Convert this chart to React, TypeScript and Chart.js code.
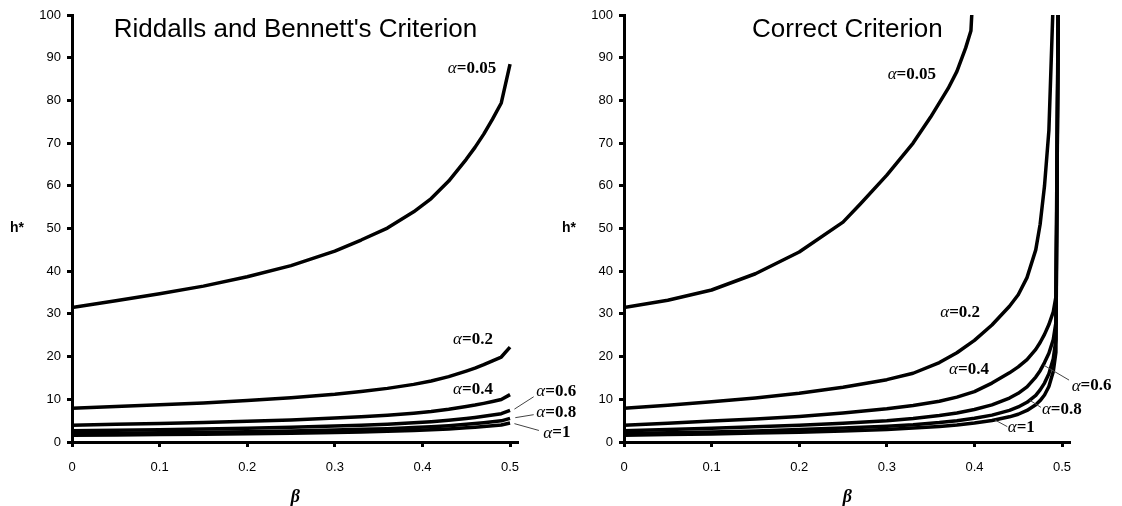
import React, { useEffect, useRef } from 'react';
import { Chart, registerables } from 'chart.js';

Chart.register(...registerables);

// ---------- data ----------
const alphaNames = ['0.05', '0.2', '0.4', '0.6', '0.8', '1'];

// Left panel: Riddalls and Bennett's criterion
const leftBeta = [0, 0.05, 0.1, 0.15, 0.2, 0.25, 0.3, 0.33, 0.36, 0.39, 0.41, 0.43, 0.45, 0.46, 0.47, 0.48, 0.49, 0.5];
const leftH005 = [31.5, 33.1, 34.7, 36.5, 38.7, 41.3, 44.7, 47.3, 50.1, 53.9, 57.0, 61.1, 66.2, 69.0, 72.1, 75.6, 79.4, 88.5];
const leftH02 = [7.9, 8.3, 8.7, 9.16, 9.72, 10.35, 11.2, 11.85, 12.56, 13.5, 14.3, 15.3, 16.6, 17.3, 18.1, 19.0, 19.9, 22.2];
const leftH04 = [3.95, 4.15, 4.35, 4.58, 4.86, 5.17, 5.61, 5.93, 6.28, 6.75, 7.15, 7.66, 8.3, 8.65, 9.05, 9.48, 9.95, 11.1];
const leftH06 = [2.63, 2.76, 2.89, 3.05, 3.23, 3.45, 3.73, 3.95, 4.18, 4.5, 4.76, 5.1, 5.52, 5.76, 6.02, 6.31, 6.63, 7.39];
const leftH08 = [1.97, 2.07, 2.17, 2.29, 2.42, 2.58, 2.8, 2.96, 3.13, 3.37, 3.57, 3.82, 4.14, 4.31, 4.51, 4.73, 4.96, 5.54];
const leftH1 = [1.58, 1.66, 1.74, 1.83, 1.94, 2.07, 2.24, 2.37, 2.51, 2.7, 2.86, 3.07, 3.32, 3.46, 3.62, 3.79, 3.98, 4.44];

// Right panel: correct criterion
const rightBeta005 = [0, 0.05, 0.1, 0.15, 0.2, 0.25, 0.27, 0.3, 0.33, 0.35, 0.37, 0.38, 0.39, 0.396, 0.4];
const rightH005 = [31.5, 33.2, 35.6, 39.4, 44.5, 51.5, 55.8, 62.5, 70.0, 76.1, 82.8, 86.8, 92.3, 96.3, 112];
const rightBeta02 = [0, 0.05, 0.1, 0.15, 0.2, 0.25, 0.3, 0.33, 0.36, 0.38, 0.4, 0.42, 0.44, 0.45, 0.46, 0.47, 0.475, 0.48, 0.485, 0.491];
const rightH02 = [7.9, 8.6, 9.4, 10.3, 11.4, 12.8, 14.6, 16.1, 18.6, 20.9, 23.8, 27.4, 31.8, 34.5, 38.5, 45.0, 51.0, 60.0, 73.0, 110];
const rightBetaLow = [0, 0.05, 0.1, 0.15, 0.2, 0.25, 0.3, 0.33, 0.36, 0.38, 0.4, 0.42, 0.44, 0.45, 0.46, 0.47, 0.475, 0.48, 0.485, 0.49, 0.493, 0.497];
const rightH04 = [3.95, 4.4, 4.9, 5.4, 6.0, 6.8, 7.8, 8.55, 9.55, 10.5, 11.8, 13.8, 16.2, 17.6, 19.3, 21.7, 23.3, 25.2, 27.5, 30.5, 34, 140];
const rightH06 = [2.63, 2.9, 3.2, 3.55, 3.9, 4.4, 5.0, 5.5, 6.2, 6.8, 7.6, 8.7, 10.3, 11.4, 12.9, 15.2, 16.7, 18.6, 20.8, 24, 28, 140];
const rightH08 = [1.97, 2.15, 2.35, 2.6, 2.9, 3.25, 3.7, 4.05, 4.55, 5.0, 5.55, 6.3, 7.4, 8.2, 9.3, 10.9, 12.2, 13.8, 16.0, 19.5, 24, 140];
const rightH1 = [1.58, 1.73, 1.9, 2.08, 2.3, 2.6, 2.95, 3.25, 3.65, 4.0, 4.45, 5.05, 5.9, 6.5, 7.4, 8.7, 9.7, 11.0, 13.0, 16.5, 21, 140];

const xTickStep = 0.1;
const yTickStep = 10;

// label anchors (data coordinates) and leader lines
const leftLabelX = [0.429, 0.435, 0.435, 0.53, 0.53, 0.538];
const leftLabelY = [87.4, 24.0, 12.2, 11.9, 6.8, 2.1];
const rightLabelX = [0.301, 0.361, 0.371, 0.511, 0.477, 0.438];
const rightLabelY = [86.0, 30.3, 16.9, 13.1, 7.5, 3.3];
const leftLeaders = [
  [0.505, 7.7, 0.527, 10.6],
  [0.506, 5.7, 0.527, 6.4],
  [0.505, 4.3, 0.533, 2.7],
];
const rightLeaders = [
  [0.479, 18.0, 0.508, 14.5],
  [0.463, 9.8, 0.476, 8.1],
  [0.4235, 5.15, 0.4375, 3.6],
];

function pts(xs: number[], ys: number[]) {
  return xs.map((x, i) => ({ x, y: ys[i] }));
}

function makeTextPlugin(title: string, lx: number[], ly: number[], leaders: number[][]) {
  return {
    id: 'texts',
    afterDraw(chart: any) {
      const { ctx, chartArea } = chart;
      const xs = chart.scales.x;
      const ys = chart.scales.y;
      ctx.save();
      ctx.fillStyle = '#000';
      ctx.font = '26px "Liberation Sans", Arial, sans-serif';
      ctx.textAlign = 'center';
      ctx.textBaseline = 'alphabetic';
      ctx.fillText(title, (chartArea.left + chartArea.right) / 2, 37);
      ctx.font = 'bold 14px "Liberation Sans", Arial, sans-serif';
      ctx.textBaseline = 'middle';
      ctx.fillText('h*', chartArea.left - 55, (chartArea.top + chartArea.bottom) / 2);
      ctx.font = 'bold italic 18px "Liberation Serif", "Times New Roman", serif';
      ctx.fillText('β', (chartArea.left + chartArea.right) / 2, 497);
      ctx.strokeStyle = '#444';
      ctx.lineWidth = 1;
      for (const l of leaders) {
        ctx.beginPath();
        ctx.moveTo(xs.getPixelForValue(l[0]), ys.getPixelForValue(l[1]));
        ctx.lineTo(xs.getPixelForValue(l[2]), ys.getPixelForValue(l[3]));
        ctx.stroke();
      }
      ctx.textAlign = 'left';
      ctx.textBaseline = 'middle';
      for (let i = 0; i < alphaNames.length; i++) {
        const px = xs.getPixelForValue(lx[i]);
        const py = ys.getPixelForValue(ly[i]);
        ctx.font = 'italic 17px "Liberation Serif", "Times New Roman", serif';
        ctx.fillText('α', px, py);
        const w = ctx.measureText('α').width;
        ctx.font = 'bold 17px "Liberation Serif", "Times New Roman", serif';
        ctx.fillText('=' + alphaNames[i], px + w, py);
      }
      ctx.restore();
    },
  };
}

function makeConfig(series: { x: number; y: number }[][], yWidth: number, padRight: number, plugin: any) {
  return {
    type: 'scatter',
    data: {
      datasets: series.map((d) => ({
        data: d,
        showLine: true,
        borderColor: '#000',
        backgroundColor: '#000',
        borderWidth: 3.5,
        pointRadius: 0,
        tension: 0,
        borderJoinStyle: 'round',
      })),
    },
    options: {
      animation: false,
      responsive: false,
      devicePixelRatio: 1,
      layout: { padding: { left: 0, top: 15, right: padRight, bottom: 0 } },
      plugins: { legend: { display: false }, tooltip: { enabled: false }, title: { display: false } },
      scales: {
        x: {
          type: 'linear',
          min: 0,
          max: 0.51,
          afterFit: (s: any) => {
            s.height = 64;
          },
          border: { display: true, color: '#000', width: 3 },
          grid: { drawOnChartArea: false, drawTicks: true, tickLength: 5, tickWidth: 3, tickColor: '#000' },
          ticks: {
            stepSize: xTickStep,
            includeBounds: false,
            padding: 13,
            color: '#000',
            font: { family: '"Liberation Sans", Arial, sans-serif', size: 13 },
            maxRotation: 0,
          },
        },
        y: {
          type: 'linear',
          min: 0,
          max: 100,
          afterFit: (s: any) => {
            s.width = yWidth;
          },
          border: { display: true, color: '#000', width: 3 },
          grid: { drawOnChartArea: false, drawTicks: true, tickLength: 5, tickWidth: 3, tickColor: '#000' },
          ticks: {
            stepSize: yTickStep,
            padding: 6,
            color: '#000',
            font: { family: '"Liberation Sans", Arial, sans-serif', size: 13 },
          },
        },
      },
    },
    plugins: [plugin],
  } as any;
}

export default function App() {
  const leftRef = useRef<HTMLCanvasElement>(null);
  const rightRef = useRef<HTMLCanvasElement>(null);

  useEffect(() => {
    const leftSeries = [leftH005, leftH02, leftH04, leftH06, leftH08, leftH1].map((h) => pts(leftBeta, h));
    const rightSeries = [
      pts(rightBeta005, rightH005),
      pts(rightBeta02, rightH02),
      pts(rightBetaLow, rightH04),
      pts(rightBetaLow, rightH06),
      pts(rightBetaLow, rightH08),
      pts(rightBetaLow, rightH1),
    ];
    const left = new Chart(
      leftRef.current as HTMLCanvasElement,
      makeConfig(leftSeries, 72, 81.2, makeTextPlugin("Riddalls and Bennett's Criterion", leftLabelX, leftLabelY, leftLeaders))
    );
    const right = new Chart(
      rightRef.current as HTMLCanvasElement,
      makeConfig(rightSeries, 63, 51.2, makeTextPlugin('Correct Criterion', rightLabelX, rightLabelY, rightLeaders))
    );
    return () => {
      left.destroy();
      right.destroy();
    };
  }, []);

  return (
    <div style={{ position: 'fixed', left: 0, top: 0, width: 1122, height: 506, background: '#fff' }}>
      <canvas ref={leftRef} width={600} height={506} style={{ position: 'absolute', left: 0, top: 0, width: 600, height: 506 }} />
      <canvas ref={rightRef} width={561} height={506} style={{ position: 'absolute', left: 561, top: 0, width: 561, height: 506 }} />
    </div>
  );
}
